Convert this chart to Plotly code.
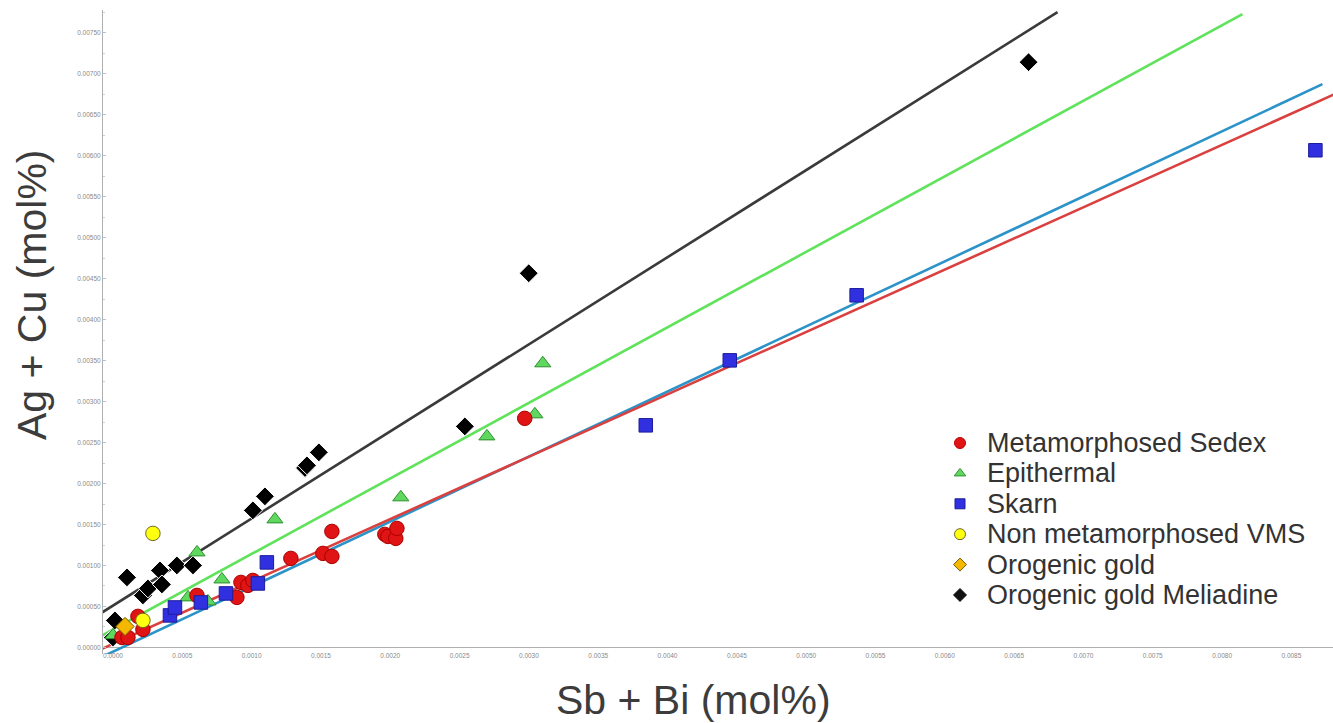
import plotly.graph_objects as go

# ---- measured compositions (mol%) ----
sedex_x = [0.000065, 0.000108, 0.000180, 0.000216, 0.000606, 0.000894, 0.000923, 0.000973,
           0.001009, 0.001283, 0.001514, 0.001579, 0.001579, 0.001961, 0.001983, 0.002040,
           0.002048, 0.002970]
sedex_y = [0.000122, 0.000122, 0.000379, 0.000220, 0.000635, 0.000611, 0.000794, 0.000757,
           0.000818, 0.001087, 0.001148, 0.001111, 0.001416, 0.001380, 0.001355, 0.001331,
           0.001453, 0.002796]

epi_x = [0.000000, 0.000541, 0.000606, 0.000685, 0.000786, 0.001168, 0.002076, 0.002697,
         0.003043, 0.003100]
epi_y = [0.000150, 0.000611, 0.001160, 0.000562, 0.000830, 0.001563, 0.001832, 0.002576,
         0.002845, 0.003468]

skarn_x = [0.000411, 0.000447, 0.000634, 0.000815, 0.001045, 0.001110, 0.003843, 0.004449,
           0.005364, 0.008673]
skarn_y = [0.000391, 0.000488, 0.000549, 0.000659, 0.000781, 0.001038, 0.002711, 0.003504,
           0.004298, 0.006068]

vms_x = [0.000216, 0.000288]
vms_y = [0.000330, 0.001392]

orogenic_x = [0.000087]
orogenic_y = [0.000256]

meliadine_x = [0.000000, 0.000014, 0.000101, 0.000216, 0.000252, 0.000339, 0.000353, 0.000461,
               0.000577, 0.001009, 0.001096, 0.001385, 0.001399, 0.001485, 0.002538, 0.002999,
               0.006604]
meliadine_y = [0.000122, 0.000330, 0.000855, 0.000635, 0.000720, 0.000940, 0.000769, 0.001001,
               0.001001, 0.001673, 0.001844, 0.002190, 0.002222, 0.002381, 0.002698, 0.004567,
               0.007143]

# ---- linear fits: y = intercept + slope * x ----
fit_names = ["Orogenic gold Meliadine", "Epithermal", "Skarn", "Metamorphosed Sedex"]
fit_slope = [1.063, 0.9218, 0.794, 0.7613]
fit_intercept = [0.000511, 0.000219, -0.000052, 0.000044]
fit_x_start = [-0.00008, -0.00008, -0.00008, -0.00008]
fit_x_end = [0.006813, 0.008147, 0.008724, 0.0090]
fit_colors = ["#3a3a3a", "#5ee35a", "#2b93c8", "#d9403f"]

# ---- canvas geometry ----
W, H = 1333, 723
ML, MR, MT, MB = 103, 0, 10, 69
X_RANGE = [-0.000072, 0.0088]
Y_RANGE = [-0.00008, 0.00778]
FONT = "Liberation Sans, Arial, sans-serif"

fig = go.Figure()

for name, b, a, x0, x1, c in zip(fit_names, fit_slope, fit_intercept, fit_x_start, fit_x_end, fit_colors):
    fig.add_trace(go.Scatter(
        x=[x0, x1], y=[a + b * x0, a + b * x1], mode="lines",
        line=dict(color=c, width=2.6), showlegend=False, hoverinfo="skip"))

series = [
    ("Orogenic gold Meliadine", meliadine_x, meliadine_y, "diamond", 14.5, "#000000", "#ffffff"),
    ("Epithermal", epi_x, epi_y, "triangle-up", 14, "#5fd860", "#2f8f2f"),
    ("Metamorphosed Sedex", sedex_x, sedex_y, "circle", 14.5, "#e01414", "#a80000"),
    ("Skarn", skarn_x, skarn_y, "square", 13.5, "#3030e0", "#1c1c9c"),
    ("Non metamorphosed VMS", vms_x, vms_y, "circle", 14.5, "#ffff10", "#6e6a20"),
    ("Orogenic gold", orogenic_x, orogenic_y, "diamond", 14, "#f4b800", "#7a5c00"),
]
for name, xs, ys, sym, size, fill, edge in series:
    fig.add_trace(go.Scatter(
        x=xs, y=ys, mode="markers", name=name, showlegend=False,
        marker=dict(symbol=sym, size=size, color=fill, line=dict(color=edge, width=1))))

# ---- legend block (pixel-positioned overlay axes) ----
legend_order = ["Metamorphosed Sedex", "Epithermal", "Skarn", "Non metamorphosed VMS",
                "Orogenic gold", "Orogenic gold Meliadine"]
legend_style = {
    "Metamorphosed Sedex": ("circle", 11, "#e01414", "#c00000"),
    "Epithermal": ("triangle-up", 10, "#5fd860", "#2f8f2f"),
    "Skarn": ("square", 10, "#3030e0", "#1c1c9c"),
    "Non metamorphosed VMS": ("circle", 11, "#ffff10", "#6e6a20"),
    "Orogenic gold": ("diamond", 10, "#f4b800", "#7a5c00"),
    "Orogenic gold Meliadine": ("diamond", 10, "#111111", "#111111"),
}
LEG_X_MARK, LEG_X_TEXT, LEG_Y0, LEG_DY = 960, 985, 443, 30.4
for i, name in enumerate(legend_order):
    sym, size, fill, edge = legend_style[name]
    yy = LEG_Y0 + LEG_DY * i
    fig.add_trace(go.Scatter(
        x=[LEG_X_MARK], y=[yy], xaxis="x2", yaxis="y2", mode="markers",
        marker=dict(symbol=sym, size=size, color=fill, line=dict(color=edge, width=1)),
        showlegend=False, hoverinfo="skip"))
    fig.add_annotation(x=LEG_X_TEXT, y=yy, xref="x2", yref="y2", text=name,
                       showarrow=False, xanchor="left", yanchor="middle",
                       font=dict(family=FONT, size=27, color="#333333"))

def px_to_paper(px, py):
    return (px - ML) / (W - ML - MR), (H - MB - py) / (H - MT - MB)

tx, ty = px_to_paper(693, 700)
fig.add_annotation(x=tx, y=ty, xref="paper", yref="paper", text="Sb + Bi (mol%)",
                   showarrow=False, xanchor="center", yanchor="middle",
                   font=dict(family=FONT, size=41, color="#3c3c3c"))
tx, ty = px_to_paper(32, 295)
fig.add_annotation(x=tx, y=ty, xref="paper", yref="paper", text="Ag + Cu (mol%)",
                   textangle=-90, showarrow=False, xanchor="center", yanchor="middle",
                   font=dict(family=FONT, size=41, color="#3c3c3c"))

tick_font = dict(family=FONT, size=6.5, color="#8a8a8a")
fig.update_layout(
    width=W, height=H,
    margin=dict(l=ML, r=MR, t=MT, b=MB),
    paper_bgcolor="white", plot_bgcolor="white",
    showlegend=False,
    xaxis=dict(range=X_RANGE, dtick=0.0005, tick0=0, tickformat=".4f",
               showgrid=False, zeroline=False, showline=False,
               ticks="", tickfont=tick_font, ticklabelstandoff=-4),
    yaxis=dict(range=Y_RANGE, dtick=0.0005, tick0=0, tickformat=".5f",
               showgrid=False, zeroline=True, zerolinecolor="#b0b0b0", zerolinewidth=1,
               showline=True, linecolor="#b0b0b0", linewidth=1,
               ticks="inside", ticklen=3, tickcolor="#c0c0c0", tickfont=tick_font,
               minor=dict(ticks="inside", ticklen=2, tickcolor="#d0d0d0", dtick=0.00025)),
    xaxis2=dict(range=[ML, W - MR], overlaying="x", visible=False, domain=[0, 1]),
    yaxis2=dict(range=[H - MB, MT], overlaying="y", visible=False, domain=[0, 1]),
)

fig.write_html("out.html")
